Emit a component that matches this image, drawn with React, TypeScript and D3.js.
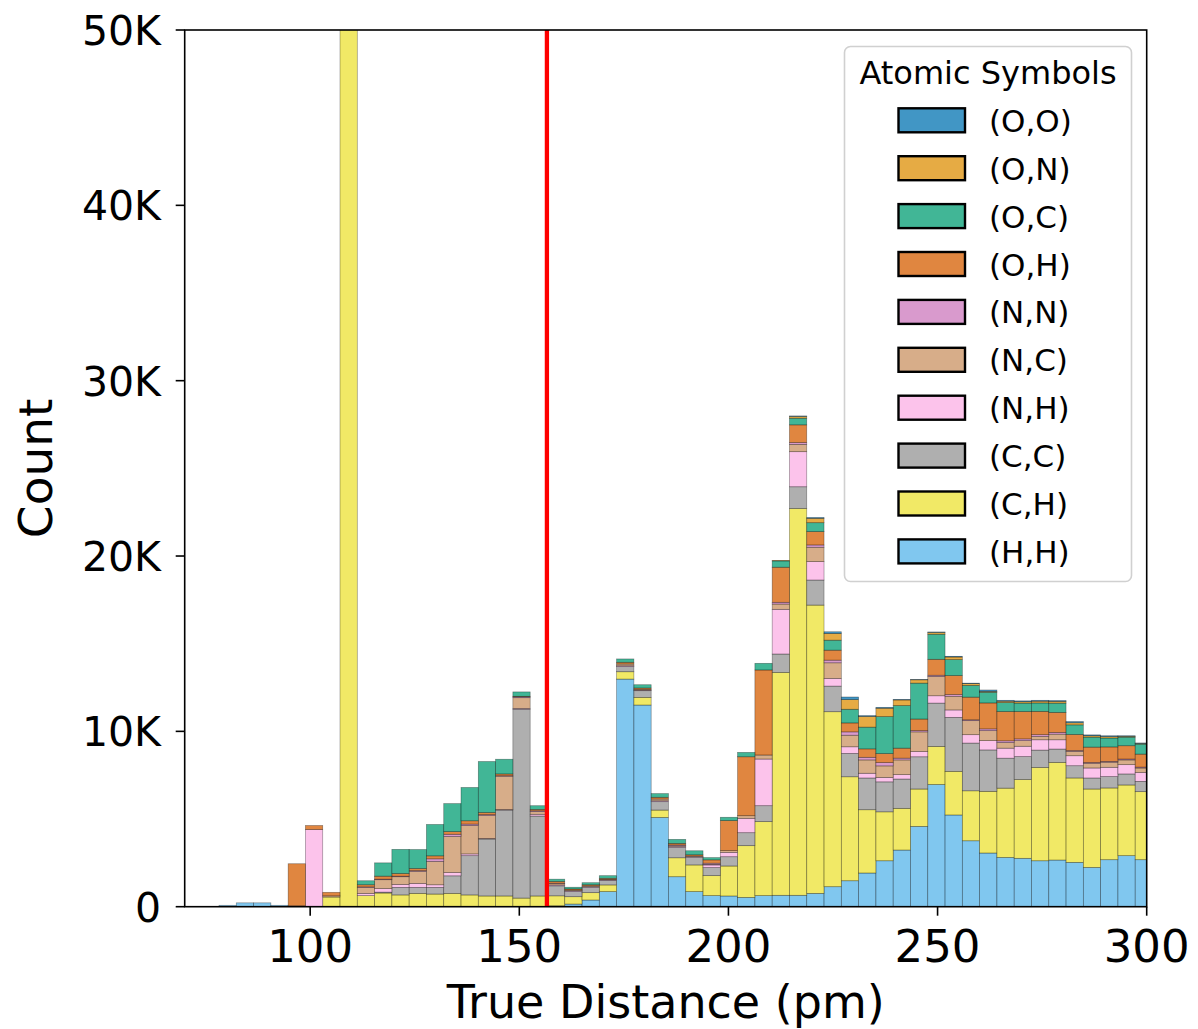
import React, { useEffect, useRef } from "react";
import * as d3 from "d3";

// histogram bins (pm)
const binStart = 78.2;
const binWidth = 4.133;

// stacked counts per bin, bottom to top
const hh = [80, 220, 220, 80, 50, 0, 0, 0, 0, 0, 0, 0, 0, 0, 0, 0, 0, 0, 0, 50, 150, 380, 860, 12980, 11500, 5090, 1710, 860, 630, 610, 530, 630, 650, 650, 760, 1140, 1480, 1920, 2620, 3230, 4580, 6970, 5230, 3760, 3060, 2810, 2760, 2620, 2660, 2530, 2240, 2680, 2910, 2680];
const ch = [0, 0, 0, 0, 0, 0, 550, 65000, 630, 780, 670, 760, 720, 760, 670, 610, 610, 490, 610, 570, 420, 420, 380, 420, 440, 420, 1080, 1520, 1140, 1710, 2950, 4220, 12710, 22060, 16440, 9980, 5930, 3610, 2790, 2380, 2130, 2170, 2490, 2850, 3520, 3950, 4490, 5320, 5570, 4810, 4470, 4090, 4030, 3880];
const cc = [0, 0, 0, 0, 0, 0, 0, 0, 0, 50, 430, 340, 380, 1000, 2240, 3250, 4900, 10770, 4560, 570, 290, 300, 250, 290, 380, 480, 590, 440, 460, 530, 740, 910, 1050, 1240, 1430, 1460, 1330, 1810, 1710, 1670, 1840, 2470, 3080, 2720, 2360, 1710, 1310, 990, 760, 700, 630, 650, 630, 590];
const nh = [0, 0, 0, 0, 0, 4400, 0, 0, 130, 200, 170, 230, 150, 190, 100, 30, 30, 50, 100, 50, 40, 40, 30, 50, 30, 50, 60, 40, 150, 250, 820, 2660, 2550, 2000, 1050, 440, 380, 270, 250, 250, 300, 420, 420, 480, 530, 570, 590, 590, 530, 570, 570, 530, 530, 510];
const nc = [0, 0, 0, 0, 0, 0, 70, 0, 340, 510, 440, 680, 1330, 2050, 1620, 1310, 1900, 610, 150, 80, 50, 50, 40, 100, 50, 100, 50, 30, 30, 100, 150, 230, 300, 420, 820, 890, 660, 760, 660, 840, 1120, 1100, 780, 800, 570, 320, 320, 190, 320, 250, 270, 290, 270, 250];
const nn = [0, 0, 0, 0, 0, 0, 0, 0, 30, 30, 30, 50, 150, 130, 80, 50, 30, 50, 50, 20, 0, 0, 0, 0, 0, 0, 30, 0, 70, 0, 0, 0, 100, 100, 130, 150, 190, 150, 190, 100, 70, 70, 100, 50, 100, 100, 100, 100, 100, 50, 50, 50, 50, 50];
const oh = [0, 0, 0, 0, 2400, 230, 200, 0, 120, 170, 150, 120, 170, 150, 190, 120, 100, 30, 80, 100, 60, 60, 60, 100, 70, 100, 90, 70, 190, 1710, 3360, 4850, 2000, 1010, 760, 570, 510, 480, 510, 570, 660, 910, 1080, 1290, 1480, 1670, 1560, 1330, 1140, 910, 870, 820, 760, 740];
const oc = [0, 0, 0, 0, 0, 0, 0, 0, 230, 760, 1380, 1080, 1790, 1600, 1900, 2910, 840, 250, 210, 130, 100, 120, 150, 190, 190, 210, 230, 230, 130, 190, 250, 380, 360, 380, 510, 570, 780, 1240, 2110, 2430, 2050, 1430, 910, 670, 610, 510, 480, 480, 530, 550, 570, 510, 490, 570];
const on = [0, 0, 0, 0, 0, 0, 0, 0, 0, 0, 0, 0, 0, 0, 0, 0, 0, 0, 0, 0, 0, 0, 0, 0, 0, 0, 0, 0, 0, 0, 0, 0, 30, 100, 250, 380, 550, 610, 480, 320, 190, 100, 150, 100, 50, 80, 80, 100, 100, 120, 80, 80, 50, 40];
const oo = [0, 0, 0, 0, 0, 0, 0, 0, 0, 0, 0, 0, 0, 0, 0, 0, 0, 0, 0, 0, 0, 0, 0, 0, 0, 0, 0, 0, 0, 0, 0, 0, 0, 30, 50, 100, 150, 50, 50, 30, 20, 30, 40, 30, 80, 50, 50, 50, 50, 70, 50, 50, 30, 30];

const seriesKeys = ["(H,H)", "(C,H)", "(C,C)", "(N,H)", "(N,C)", "(N,N)", "(O,H)", "(O,C)", "(O,N)", "(O,O)"];
const seriesValues = [hh, ch, cc, nh, nc, nn, oh, oc, on, oo];
const seriesColors = ["#56B4E9", "#ECE133", "#949494", "#FBAFE4", "#CA9161", "#CC78BC", "#D55E00", "#029E73", "#DE8F05", "#0173B2"];

const xTicks = [100, 150, 200, 250, 300];
const yTicks = [0, 10000, 20000, 30000, 40000, 50000];
const cutoff = 156.6;

const W = 1198;
const H = 1029;
const plot = { left: 184.7, right: 1146.7, top: 30, bottom: 906.7 };
const font = "DejaVu Sans, sans-serif";

export default function App() {
  const ref = useRef<SVGSVGElement>(null);

  useEffect(() => {
    const svg = d3.select(ref.current);
    svg.selectAll("*").remove();

    const x = d3.scaleLinear().domain([70, 300]).range([plot.left, plot.right]);
    const y = d3.scaleLinear().domain([0, 50000]).range([plot.bottom, plot.top]);

    const rows = hh.map((_, i) => {
      const r: any = { i };
      seriesKeys.forEach((k, s) => (r[k] = seriesValues[s][i]));
      return r;
    });
    const stacked = d3.stack().keys(seriesKeys)(rows);

    svg
      .append("defs")
      .append("clipPath")
      .attr("id", "plot-clip")
      .append("rect")
      .attr("x", plot.left)
      .attr("y", plot.top)
      .attr("width", plot.right - plot.left)
      .attr("height", plot.bottom - plot.top);

    const g = svg.append("g").attr("clip-path", "url(#plot-clip)");
    stacked.forEach((layer, s) => {
      g.append("g")
        .selectAll("rect")
        .data(layer.filter(d => d[1] - d[0] > 0))
        .join("rect")
        .attr("x", d => x(binStart + d.data.i * binWidth))
        .attr("width", d => x(binStart + (d.data.i + 1) * binWidth) - x(binStart + d.data.i * binWidth))
        .attr("y", d => y(d[1]))
        .attr("height", d => y(d[0]) - y(d[1]))
        .attr("fill", seriesColors[s])
        .attr("fill-opacity", 0.75)
        .attr("stroke", "#000")
        .attr("stroke-opacity", 0.4)
        .attr("stroke-width", 0.7);
    });

    // cutoff line
    g.append("line")
      .attr("x1", x(cutoff))
      .attr("x2", x(cutoff))
      .attr("y1", plot.top)
      .attr("y2", plot.bottom)
      .attr("stroke", "#ff0000")
      .attr("stroke-width", 4.3);

    // frame
    svg
      .append("rect")
      .attr("x", plot.left)
      .attr("y", plot.top)
      .attr("width", plot.right - plot.left)
      .attr("height", plot.bottom - plot.top)
      .attr("fill", "none")
      .attr("stroke", "#000")
      .attr("stroke-width", 1.6);

    // x axis
    const xa = svg.append("g");
    xTicks.forEach(t => {
      xa.append("line")
        .attr("x1", x(t))
        .attr("x2", x(t))
        .attr("y1", plot.bottom)
        .attr("y2", plot.bottom + 9)
        .attr("stroke", "#000")
        .attr("stroke-width", 1.6);
      xa.append("text")
        .attr("x", x(t))
        .attr("y", 962)
        .attr("text-anchor", "middle")
        .attr("font-family", font)
        .attr("font-size", 45)
        .text(String(t));
    });
    xa.append("text")
      .attr("x", (plot.left + plot.right) / 2)
      .attr("y", 1018)
      .attr("text-anchor", "middle")
      .attr("font-family", font)
      .attr("font-size", 46)
      .text("True Distance (pm)");

    // y axis
    const ya = svg.append("g");
    yTicks.forEach(t => {
      ya.append("line")
        .attr("x1", plot.left - 9)
        .attr("x2", plot.left)
        .attr("y1", y(t))
        .attr("y2", y(t))
        .attr("stroke", "#000")
        .attr("stroke-width", 1.6);
      ya.append("text")
        .attr("x", 161)
        .attr("y", y(t) + 15)
        .attr("text-anchor", "end")
        .attr("font-family", font)
        .attr("font-size", 41)
        .text(t === 0 ? "0" : `${t / 1000}K`);
    });
    ya.append("text")
      .attr("transform", `translate(52,${(plot.top + plot.bottom) / 2}) rotate(-90)`)
      .attr("text-anchor", "middle")
      .attr("font-family", font)
      .attr("font-size", 47)
      .text("Count");

    // legend
    const lg = svg.append("g");
    lg.append("rect")
      .attr("x", 844.5)
      .attr("y", 46.5)
      .attr("width", 287)
      .attr("height", 535)
      .attr("rx", 6)
      .attr("fill", "#fff")
      .attr("fill-opacity", 0.8)
      .attr("stroke", "#d0d0d0")
      .attr("stroke-width", 1.6);
    lg.append("text")
      .attr("x", 988)
      .attr("y", 84)
      .attr("text-anchor", "middle")
      .attr("font-family", font)
      .attr("font-size", 32)
      .text("Atomic Symbols");
    const order = d3.range(seriesKeys.length).reverse();
    order.forEach((s, row) => {
      const cy = 120.3 + row * 47.9;
      lg.append("rect")
        .attr("x", 898.5)
        .attr("y", cy - 12)
        .attr("width", 66.5)
        .attr("height", 24)
        .attr("fill", seriesColors[s])
        .attr("fill-opacity", 0.75)
        .attr("stroke", "#000")
        .attr("stroke-width", 2.4);
      lg.append("text")
        .attr("x", 989)
        .attr("y", cy + 11.5)
        .attr("font-family", font)
        .attr("font-size", 31)
        .text(seriesKeys[s]);
    });
  }, []);

  return (
    <svg
      ref={ref}
      width={W}
      height={H}
      style={{ position: "absolute", left: 0, top: 0, background: "#fff" }}
    />
  );
}
